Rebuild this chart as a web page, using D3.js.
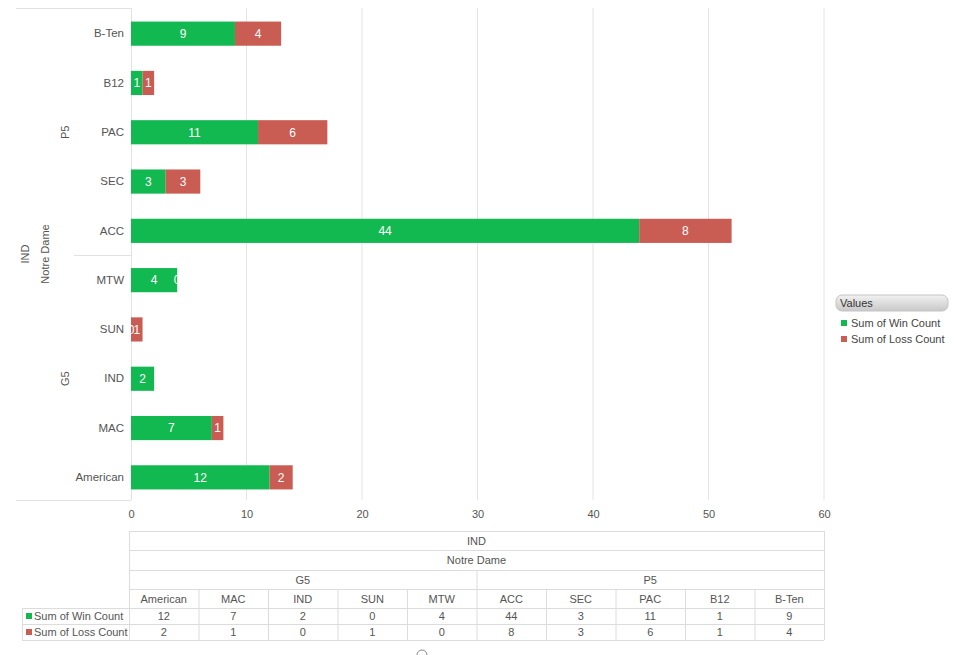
<!DOCTYPE html>
<html><head><meta charset="utf-8">
<script src="https://cdn.jsdelivr.net/npm/d3@7"></script>
<style>
body{margin:0;background:#fff;}
svg{display:block;font-family:"Liberation Sans",Arial,sans-serif;}
</style></head>
<body><svg id="c" width="955" height="655"></svg>
<script>
const categories = ["American","MAC","IND","SUN","MTW","ACC","SEC","PAC","B12","B-Ten"];
const groups = ["G5","G5","G5","G5","G5","P5","P5","P5","P5","P5"];
const groupNames = ["G5","P5"];
const level1 = "Notre Dame";
const level0 = "IND";
const winCount = [12,7,2,0,4,44,3,11,1,9];
const lossCount = [2,1,0,1,0,8,3,6,1,4];
const seriesNames = ["Sum of Win Count","Sum of Loss Count"];
const xTicks = [0,10,20,30,40,50,60];
const hiddenLabels = [["IND","loss"]];

const colors = ["#12b850","#c95c53"];
const svg = d3.select("#c");
const pL = 131, pR = 824, pT = 8, pB = 500;

const x = d3.scaleLinear().domain([0,60]).range([pL,pR]);
const y = d3.scaleBand().domain(categories.slice().reverse()).range([pT+1,pB+2]).paddingInner(0.51).paddingOuter(0.255);

// gridlines
svg.append("g").selectAll("line").data(xTicks.slice(1)).join("line")
  .attr("x1",d=>x(d)).attr("x2",d=>x(d)).attr("y1",pT).attr("y2",pB)
  .attr("stroke","#e4e4e4").attr("stroke-width",1);

// left axis panel borders
const g0 = svg.append("g").attr("stroke","#e2e2e2").attr("stroke-width",1).attr("shape-rendering","crispEdges");
g0.append("line").attr("x1",16).attr("x2",pL).attr("y1",pT+0.5).attr("y2",pT+0.5);
g0.append("line").attr("x1",16).attr("x2",pL).attr("y1",pB+0.5).attr("y2",pB+0.5);
g0.append("line").attr("x1",pL+0.5).attr("x2",pL+0.5).attr("y1",pT).attr("y2",pB);
const sepY = (y("ACC")+y.bandwidth()+y("MTW"))/2;
g0.append("line").attr("x1",74).attr("x2",pL).attr("y1",sepY).attr("y2",sepY);

// x axis
const xAxis = d3.axisBottom(x).tickValues(xTicks).tickSize(0).tickPadding(10);
const ax = svg.append("g").attr("transform",`translate(0,${pB})`).call(xAxis);
ax.select(".domain").remove();
ax.selectAll("text").attr("fill","#555").attr("font-size",11).attr("font-family","Liberation Sans, Arial, sans-serif");

// y labels
const yAxis = d3.axisLeft(y).tickSize(0).tickPadding(7);
const ay = svg.append("g").attr("transform",`translate(${pL},0)`).call(yAxis);
ay.select(".domain").remove();
ay.selectAll("text").attr("fill","#555").attr("font-size",11.5).attr("font-family","Liberation Sans, Arial, sans-serif");

// group labels
groupNames.forEach(gn=>{
  const cats = categories.filter((c,i)=>groups[i]===gn);
  const ys = cats.map(c=>y(c)+y.bandwidth()/2);
  const cy = (d3.min(ys)+d3.max(ys))/2;
  svg.append("text").attr("transform",`translate(69,${cy}) rotate(-90)`).attr("text-anchor","middle")
    .attr("fill","#555").attr("font-size",11).text(gn);
});
const midY = (pT+pB)/2;
svg.append("text").attr("transform",`translate(49,${midY}) rotate(-90)`).attr("text-anchor","middle").attr("fill","#555").attr("font-size",11).text(level1);
svg.append("text").attr("transform",`translate(29,${midY}) rotate(-90)`).attr("text-anchor","middle").attr("fill","#555").attr("font-size",11).text(level0);

// stacked bars
const rows = categories.map((c,i)=>({cat:c, win:winCount[i], loss:lossCount[i]}));
const keys = ["win","loss"];
const stack = d3.stack().keys(keys)(rows);
const bars = svg.append("g");
stack.forEach((layer,k)=>{
  bars.append("g").selectAll("rect").data(layer).join("rect")
    .attr("x",d=>x(d[0])).attr("width",d=>x(d[1])-x(d[0]))
    .attr("y",d=>y(d.data.cat)).attr("height",y.bandwidth())
    .attr("fill",colors[k]);
});
stack.forEach((layer,k)=>{
  const shown = layer.filter(d=>!hiddenLabels.some(h=>h[0]===d.data.cat && h[1]===keys[k]));
  bars.append("g").selectAll("text").data(shown).join("text")
    .attr("x",d=>(x(d[0])+x(d[1]))/2).attr("y",d=>y(d.data.cat)+y.bandwidth()/2)
    .attr("dy","0.36em").attr("text-anchor","middle").attr("fill","#fff").attr("font-size",12)
    .text(d=>d[1]-d[0]);
});

// legend
const lg = svg.append("g").attr("transform","translate(836,295)");
const grad = svg.append("defs").append("linearGradient").attr("id","lgg").attr("x1",0).attr("x2",0).attr("y1",0).attr("y2",1);
grad.append("stop").attr("offset","0%").attr("stop-color","#f2f2f2");
grad.append("stop").attr("offset","100%").attr("stop-color","#c8c8c8");
lg.append("rect").attr("width",112).attr("height",16).attr("rx",6).attr("fill","url(#lgg)").attr("stroke","#c4c4c4");
lg.append("text").attr("x",4).attr("y",12).attr("font-size",11).attr("fill","#333").text("Values");
seriesNames.forEach((s,i)=>{
  lg.append("rect").attr("x",5).attr("y",25+i*16).attr("width",6).attr("height",6).attr("fill",colors[i]);
  lg.append("text").attr("x",15).attr("y",32+i*16).attr("font-size",11).attr("fill","#444").text(s);
});

// data table
const tb = svg.append("g").attr("font-size",11).attr("fill","#555");
const colW = (pR-129)/categories.length;
const tx = i=>129+i*colW;
const rowsY = [531,550,570,589,608,624,640];
function hl(x1,x2,yy){tb.append("line").attr("x1",x1).attr("x2",x2).attr("y1",yy+0.5).attr("y2",yy+0.5).attr("stroke","#dcdcdc");}
function vl(xx,y1,y2){tb.append("line").attr("x1",xx+0.5).attr("x2",xx+0.5).attr("y1",y1).attr("y2",y2).attr("stroke","#dcdcdc");}
rowsY.forEach((yy,i)=>hl(i>=4?22:129,pR,yy));
vl(129,rowsY[0],rowsY[6]); vl(pR,rowsY[0],rowsY[6]); vl(22,rowsY[4],rowsY[6]);
vl(tx(5),rowsY[2],rowsY[6]);
for(let i=1;i<categories.length;i++){ if(i!==5) vl(tx(i),rowsY[3],rowsY[6]); }
function ct(xx,yy,t,anchor){tb.append("text").attr("x",xx).attr("y",yy).attr("text-anchor",anchor||"middle").attr("fill","#555").text(t);}
ct((129+pR)/2,(rowsY[0]+rowsY[1])/2+4,level0);
ct((129+pR)/2,(rowsY[1]+rowsY[2])/2+4,level1);
groupNames.forEach((gn,j)=>ct((tx(j*5)+tx(j*5+5))/2,(rowsY[2]+rowsY[3])/2+4,gn));
categories.forEach((c,i)=>{
  ct(tx(i)+colW/2,(rowsY[3]+rowsY[4])/2+4,c);
  ct(tx(i)+colW/2,(rowsY[4]+rowsY[5])/2+4,winCount[i]);
  ct(tx(i)+colW/2,(rowsY[5]+rowsY[6])/2+4,lossCount[i]);
});
seriesNames.forEach((s,i)=>{
  const yy = (rowsY[4+i]+rowsY[5+i])/2;
  tb.append("rect").attr("x",26).attr("y",yy-3).attr("width",6).attr("height",6).attr("fill",colors[i]);
  tb.append("text").attr("x",34).attr("y",yy+4).attr("fill","#555").text(s);
});

// small scroll indicator
svg.append("path").attr("d","M417,655 A5,5 0 0 1 427,655").attr("fill","none").attr("stroke","#888");
</script></body></html>
